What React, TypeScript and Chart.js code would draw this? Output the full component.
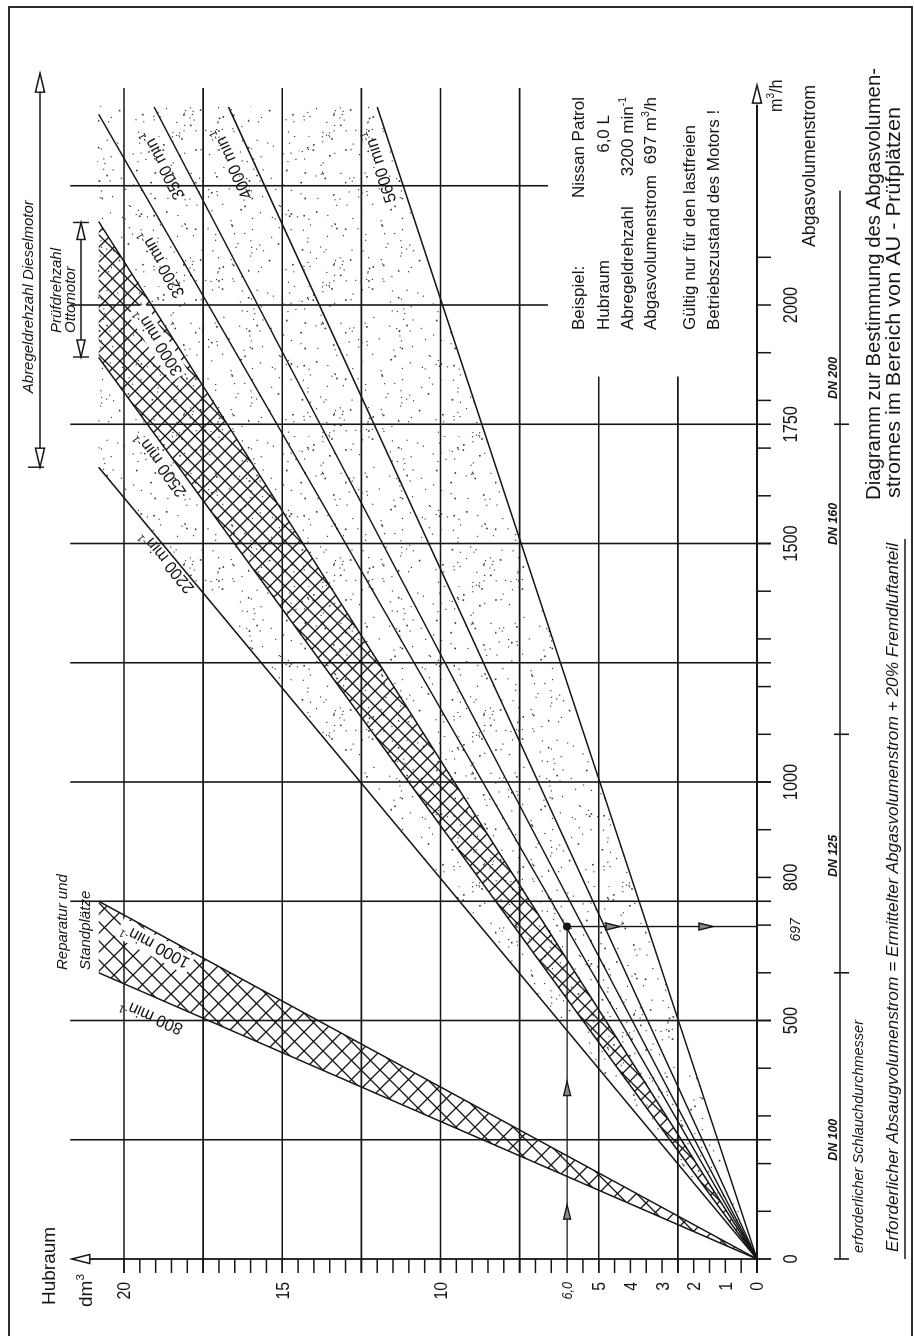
import React, { useEffect, useRef } from "react";
import { Chart, registerables } from "chart.js";

Chart.register(...registerables);

// ---------------- data ----------------
// engine speed lines (min^-1), each drawn from the origin to its upper end
const rpmValues = [800, 1000, 2200, 2500, 3000, 3200, 3500, 4000, 5600];
const rpmEndFlow = [600, 750, 1660, 1890, 2175, 2400, 2415, 2415, 2415]; // m3/h
const rpmEndHubraum = [20.8, 20.8, 20.8, 20.8, 20.8, 20.8, 19.05, 16.7, 12.0]; // dm3
const rpmLabelFlow = [545, 679, 1472, 1682, 1938, 2107, 2312, 2314, 2301];
const rpmLabelInHatch = [false, true, false, false, true, false, false, false, false];

// grid
const flowGridValues = [250, 500, 750, 1000, 1250, 1500, 1750, 2000, 2250];
const flowGridFromHubraum = [0, 0, 0, 0, 0, 0, 0, 6.6, 6.6];
const hubraumGridValues = [2.5, 5, 7.5, 10, 12.5, 15, 17.5, 20];
const hubraumGridToFlow = [1850, 1850, 2455, 2455, 2455, 2455, 2455, 2455];

// axis labels
const flowTickLabelValues = [0, 500, 800, 1000, 1500, 1750, 2000];
const flowTickLabels = ["0", "500", "800", "1000", "1500", "1750", "2000"];
const hubraumTickLabelValues = [0, 1, 2, 3, 4, 5, 10, 15, 20];
const hubraumTickLabels = ["0", "1", "2", "3", "4", "5", "10", "15", "20"];

// worked example (Nissan Patrol)
const exampleHubraum = 6.0;
const exampleFlow = 697;
const exampleHubraumLabel = "6,0";
const exampleFlowLabel = "697";
const exampleUpArrowFlow = [113, 372];
const exampleDownArrowHubraum = [4.33, 1.39];

// hose diameter scale
const dnBoundaries = [0, 600, 1100, 1750];
const dnAxisEnd = 2240;
const dnLabels = ["DN 100", "DN 125", "DN 160", "DN 200"];
const dnLabelFlow = [250, 845, 1541, 1847];

// ranges
const dieselRange = [1660, 2486];
const pruefRange = [1891, 2173];
const regionTopFlow = 2418;
const regionEdgeHubraum = 20.85;

// ---------------- layout ----------------
const CW = 1336;
const CH = 914;
const X_MAX = 2455;
const Y_MAX = 21.65;
const INK = "#161616";
const FONT = '"Liberation Sans", Arial, "DejaVu Sans", sans-serif';
const TICK = 14;
const LABEL_OFFSETS = [20, 13, 9, 14, 15, 21, 20, 21, 17];

type Seg = string | { t: string; sup?: boolean };
interface TOpt {
  size: number;
  italic?: boolean;
  weight?: string;
  align?: "left" | "center" | "right";
  width?: number;
  squeeze?: number;
  angle?: number;
  box?: boolean;
  vcenter?: boolean;
}

function fontOf(size: number, italic?: boolean, weight?: string) {
  return `${italic ? "italic " : ""}${weight ?? "normal"} ${size}px ${FONT}`;
}

function drawText(ctx: CanvasRenderingContext2D, content: Seg[] | string, x: number, y: number, o: TOpt) {
  const segs = (typeof content === "string" ? [content] : content).map((s) =>
    typeof s === "string" ? { t: s, sup: false } : { t: s.t, sup: !!s.sup }
  );
  ctx.save();
  ctx.translate(x, y);
  if (o.angle) ctx.rotate(o.angle);
  const widths: number[] = [];
  let total = 0;
  for (const s of segs) {
    ctx.font = fontOf(s.sup ? o.size * 0.62 : o.size, o.italic, o.weight);
    const w = ctx.measureText(s.t).width;
    widths.push(w);
    total += w;
  }
  const sx = o.width ? o.width / total : o.squeeze ?? 1;
  ctx.scale(sx, 1);
  let cx = o.align === "center" ? -total / 2 : o.align === "right" ? -total : 0;
  const base = o.vcenter ? o.size * 0.36 : 0;
  if (o.box) {
    ctx.fillStyle = "#fff";
    ctx.fillRect(cx - 3, base - o.size * 0.95, total + 6, o.size * 1.2);
  }
  ctx.fillStyle = INK;
  ctx.textBaseline = "alphabetic";
  ctx.textAlign = "left";
  segs.forEach((s, i) => {
    ctx.font = fontOf(s.sup ? o.size * 0.62 : o.size, o.italic, o.weight);
    ctx.fillText(s.t, cx, base - (s.sup ? o.size * 0.4 : 0));
    cx += widths[i];
  });
  ctx.restore();
}

function seg(ctx: CanvasRenderingContext2D, x1: number, y1: number, x2: number, y2: number) {
  ctx.beginPath();
  ctx.moveTo(x1, y1);
  ctx.lineTo(x2, y2);
  ctx.stroke();
}

function arrowHead(
  ctx: CanvasRenderingContext2D,
  tipX: number,
  tipY: number,
  dx: number,
  dy: number,
  len: number,
  half: number,
  fill: string
) {
  const bx = tipX - dx * len;
  const by = tipY - dy * len;
  const nx = -dy;
  const ny = dx;
  ctx.beginPath();
  ctx.moveTo(tipX, tipY);
  ctx.lineTo(bx + nx * half, by + ny * half);
  ctx.lineTo(bx - nx * half, by - ny * half);
  ctx.closePath();
  ctx.fillStyle = fill;
  ctx.fill();
  ctx.stroke();
}

function makeStipple() {
  const size = 150;
  const c = document.createElement("canvas");
  c.width = size;
  c.height = size;
  const g = c.getContext("2d")!;
  let s = 987654321;
  const rnd = () => {
    s = (Math.imul(s, 1103515245) + 12345) >>> 0;
    return s / 4294967296;
  };
  g.fillStyle = "#333";
  for (let i = 0; i < 200; i++) {
    const x = rnd() * size;
    const y = rnd() * size;
    const r = rnd() < 0.25 ? 1.6 : 1.15;
    g.fillRect(x, y, r, r);
  }
  return g.createPattern(c, "repeat")!;
}

function makeHatch(s: number) {
  const c = document.createElement("canvas");
  c.width = s;
  c.height = s;
  const g = c.getContext("2d")!;
  g.strokeStyle = INK;
  g.lineWidth = 1.3;
  g.beginPath();
  for (let k = -1; k <= 1; k++) {
    g.moveTo(k * s - 1, -1);
    g.lineTo(k * s + s + 1, s + 1);
    g.moveTo(k * s + s + 1, -1);
    g.lineTo(k * s - 1, s + 1);
  }
  g.stroke();
  return g.createPattern(c, "repeat")!;
}

const nomogramPlugin = {
  id: "nomogram",
  beforeDraw(chart: any) {
    const ctx: CanvasRenderingContext2D = chart.ctx;
    ctx.save();
    ctx.fillStyle = "#fff";
    ctx.fillRect(0, 0, chart.width, chart.height);
    ctx.restore();
  },
  beforeDatasetsDraw(chart: any) {
    const ctx: CanvasRenderingContext2D = chart.ctx;
    const X = (f: number) => chart.scales.x.getPixelForValue(f);
    const Y = (h: number) => chart.scales.y.getPixelForValue(h);
    ctx.save();
    ctx.strokeStyle = INK;
    ctx.lineWidth = 1.6;
    // grid lines
    flowGridValues.forEach((f, i) => {
      const h0 = flowGridFromHubraum[i];
      seg(ctx, X(f), Y(h0) + (h0 === 0 ? TICK : 0), X(f), Y(21.7));
    });
    hubraumGridValues.forEach((h, i) => {
      seg(ctx, X(0) - TICK, Y(h), X(hubraumGridToFlow[i]), Y(h));
    });
    // tick marks
    ctx.lineWidth = 1.5;
    for (let f = 100; f <= 2100; f += 100) seg(ctx, X(f), Y(0), X(f), Y(0) + TICK);
    for (let h = 0.5; h <= 20.001; h += 0.5) seg(ctx, X(0) - TICK, Y(h), X(0), Y(h));
    // axes
    ctx.lineWidth = 1.8;
    seg(ctx, X(0), Y(-0.45), X(0), Y(21.1));
    seg(ctx, X(0) - TICK, Y(0), X(2420), Y(0));
    ctx.restore();
  },
  afterDatasetsDraw(chart: any) {
    const ctx: CanvasRenderingContext2D = chart.ctx;
    const X = (f: number) => chart.scales.x.getPixelForValue(f);
    const Y = (h: number) => chart.scales.y.getPixelForValue(h);
    ctx.save();
    ctx.strokeStyle = INK;
    ctx.lineWidth = 1.5;

    // axis arrows (open)
    arrowHead(ctx, X(0), Y(Y_MAX), 0, -1, 18, 4.5, "#fff");
    arrowHead(ctx, X(2461), Y(0), 1, 0, 18, 4.5, "#fff");

    // speed line labels
    rpmValues.forEach((n, i) => {
      const x0 = X(0), y0 = Y(0);
      const ang = Math.atan2(Y(rpmEndHubraum[i]) - y0, X(rpmEndFlow[i]) - x0);
      const fc = rpmLabelFlow[i];
      const hc = (fc * rpmEndHubraum[i]) / rpmEndFlow[i];
      const off = LABEL_OFFSETS[i];
      const px = X(fc) + Math.sin(ang) * off;
      const py = Y(hc) - Math.cos(ang) * off;
      drawText(ctx, [`${n} min`, { t: "-1", sup: true }], px, py, {
        size: 17,
        align: "center",
        vcenter: true,
        angle: ang,
        box: rpmLabelInHatch[i],
        squeeze: 0.95,
      });
    });

    // worked example arrows
    ctx.lineWidth = 1.4;
    seg(ctx, X(0), Y(exampleHubraum), X(exampleFlow), Y(exampleHubraum));
    seg(ctx, X(exampleFlow), Y(exampleHubraum), X(exampleFlow), Y(0));
    exampleUpArrowFlow.forEach((f) => arrowHead(ctx, X(f), Y(exampleHubraum), 1, 0, 14, 3.5, "#8a8a8a"));
    exampleDownArrowHubraum.forEach((h) => arrowHead(ctx, X(exampleFlow), Y(h), 0, 1, 14, 3.5, "#8a8a8a"));

    // tick labels
    flowTickLabelValues.forEach((f, i) =>
      drawText(ctx, flowTickLabels[i], X(f), 797, { size: 20, align: "center", squeeze: 0.82 })
    );
    drawText(ctx, exampleFlowLabel, X(690), 800, { size: 14, italic: true, align: "center" });
    hubraumTickLabelValues.forEach((h, i) =>
      drawText(ctx, hubraumTickLabels[i], 54, Y(h), { size: 18, align: "right", vcenter: true, squeeze: 0.88 })
    );
    drawText(ctx, exampleHubraumLabel, 54, Y(exampleHubraum), {
      size: 14,
      italic: true,
      align: "right",
      vcenter: true,
      squeeze: 0.9,
    });

    // axis titles
    drawText(ctx, "Hubraum", 31, 55, { size: 19 });
    drawText(ctx, ["dm", { t: "3", sup: true }], 29, 92, { size: 19 });
    drawText(ctx, ["m", { t: "3", sup: true }, "/h"], 1224, 782, { size: 19, squeeze: 0.85 });
    drawText(ctx, "Abgasvolumenstrom", 1089, 815, { size: 18, width: 162 });

    // example block
    const bx = 1006;
    const rx = 1239;
    drawText(ctx, "Beispiel:", bx, 584, { size: 17 });
    drawText(ctx, "Nissan Patrol", rx, 584, { size: 17, align: "right" });
    drawText(ctx, "Hubraum", bx, 609, { size: 17 });
    drawText(ctx, "6,0 L", 1221, 609, { size: 17, align: "right" });
    drawText(ctx, "Abregeldrehzahl", bx, 633, { size: 17 });
    drawText(ctx, ["3200 min", { t: "-1", sup: true }], rx, 633, { size: 17, align: "right" });
    drawText(ctx, "Abgasvolumenstrom", bx, 656, { size: 17 });
    drawText(ctx, ["697 m", { t: "3", sup: true }, "/h"], rx, 656, { size: 17, align: "right" });
    drawText(ctx, "Gültig nur für den lastfreien", bx, 695, { size: 17 });
    drawText(ctx, "Betriebszustand des Motors !", bx, 719, { size: 17 });

    // diagram title
    drawText(ctx, "Diagramm zur Bestimmung des Abgasvolumen-", 836, 880, { size: 20, width: 432 });
    drawText(ctx, "stromes im Bereich von AU - Prüfplätzen", 838, 900, { size: 20, width: 391 });

    // DN scale
    ctx.lineWidth = 1.6;
    seg(ctx, X(0), 840, X(dnAxisEnd), 840);
    dnBoundaries.forEach((f) => seg(ctx, X(f), 834, X(f), 849));
    dnLabels.forEach((t, i) =>
      drawText(ctx, t, X(dnLabelFlow[i]), 837, { size: 13, italic: true, weight: "bold", align: "center", width: 42 })
    );
    drawText(ctx, "erforderlicher Schlauchdurchmesser", 83, 863, { size: 15, italic: true, width: 233 });
    drawText(
      ctx,
      "Erforderlicher Absaugvolumenstrom = Ermittelter Abgasvolumenstrom + 20% Fremdluftanteil",
      84,
      898,
      { size: 17, italic: true, width: 709 }
    );
    seg(ctx, X(0), 905, 797, 905);

    // range annotations
    ctx.lineWidth = 1.4;
    seg(ctx, X(dieselRange[0]), 40, X(dieselRange[1]), 40);
    arrowHead(ctx, X(dieselRange[0]), 40, -1, 0, 19, 4.5, "#fff");
    arrowHead(ctx, X(dieselRange[1]), 40, 1, 0, 19, 4.5, "#fff");
    seg(ctx, X(dieselRange[0]), 28, X(dieselRange[0]), 44);
    drawText(ctx, "Abregeldrehzahl Dieselmotor", X(dieselRange[0]) + 74, 33, { size: 15, italic: true, width: 193 });

    seg(ctx, X(pruefRange[0]), 81, X(pruefRange[1]), 81);
    arrowHead(ctx, X(pruefRange[0]), 81, -1, 0, 17, 4, "#fff");
    arrowHead(ctx, X(pruefRange[1]), 81, 1, 0, 17, 4, "#fff");
    seg(ctx, X(pruefRange[0]), 73, X(pruefRange[0]), 89);
    seg(ctx, X(pruefRange[1]), 73, X(pruefRange[1]), 89);
    drawText(ctx, "Prüfdrehzahl", 1003, 61, { size: 15, italic: true });
    drawText(ctx, "Ottomotor", 1003, 75, { size: 15, italic: true });

    drawText(ctx, "Reparatur und", 366, 67, { size: 15, italic: true });
    drawText(ctx, "Standplätze", 366, 90, { size: 15, italic: true });

    // frame
    ctx.lineWidth = 1.8;
    ctx.strokeRect(-2, 9, 1331, 903);
    ctx.restore();
  },
};

export default function App() {
  const ref = useRef<HTMLCanvasElement>(null);

  useEffect(() => {
    const canvas = ref.current!;
    const stipple = makeStipple();
    const hatchMain = makeHatch(15);
    const hatchRep = makeHatch(19);
    const pt = (i: number) => ({ x: rpmEndFlow[i], y: rpmEndHubraum[i] });
    const origin = { x: 0, y: 0 };
    const dieselPoly = [origin, pt(2), { x: regionTopFlow, y: regionEdgeHubraum }, pt(8)];
    const pruefPoly = [origin, pt(3), pt(4)];
    const repPoly = [origin, pt(0), pt(1)];
    const clear = "rgba(0,0,0,0)";

    const chart = new Chart(canvas, {
      type: "line",
      data: {
        datasets: [
          {
            label: "Abregeldrehzahl Dieselmotor",
            data: dieselPoly,
            fill: "shape",
            backgroundColor: stipple,
            borderColor: clear,
            borderWidth: 0,
            pointRadius: 0,
            order: 10,
          },
          {
            label: "Prüfdrehzahl Ottomotor",
            data: pruefPoly,
            fill: "shape",
            backgroundColor: hatchMain,
            borderColor: clear,
            borderWidth: 0,
            pointRadius: 0,
            order: 9,
          },
          {
            label: "Reparatur und Standplätze",
            data: repPoly,
            fill: "shape",
            backgroundColor: hatchRep,
            borderColor: clear,
            borderWidth: 0,
            pointRadius: 0,
            order: 9,
          },
          ...rpmValues.map((n, i) => ({
            label: `${n} min-1`,
            data: [origin, pt(i)],
            borderColor: INK,
            borderWidth: 1.5,
            pointRadius: 0,
            fill: false,
            order: 2,
          })),
          {
            label: "Beispiel",
            data: [{ x: exampleFlow, y: exampleHubraum }],
            showLine: false,
            pointRadius: 4,
            pointBackgroundColor: INK,
            pointBorderWidth: 0,
            order: 1,
          },
        ] as any,
      },
      options: {
        responsive: false,
        animation: false,
        events: [],
        layout: {
          padding: {
            left: 77,
            right: CW - 77 - X_MAX * 0.477,
            top: 757 - Y_MAX * 31.65,
            bottom: CH - 757,
          },
        },
        elements: { line: { tension: 0 } },
        scales: {
          x: { type: "linear", min: 0, max: X_MAX, display: false },
          y: { type: "linear", min: 0, max: Y_MAX, display: false },
        },
        plugins: { legend: { display: false }, tooltip: { enabled: false } },
      } as any,
      plugins: [nomogramPlugin as any],
    });
    return () => chart.destroy();
  }, []);

  return (
    <div
      style={{
        position: "absolute",
        left: 0,
        top: 0,
        width: 914,
        height: 1336,
        overflow: "hidden",
        background: "#fff",
      }}
    >
      <div
        style={{
          position: "absolute",
          left: 0,
          top: 0,
          width: CW,
          height: CH,
          transformOrigin: "0 0",
          transform: `translateY(${CW}px) rotate(-90deg)`,
        }}
      >
        <canvas ref={ref} width={CW} height={CH} style={{ display: "block" }} />
      </div>
    </div>
  );
}
